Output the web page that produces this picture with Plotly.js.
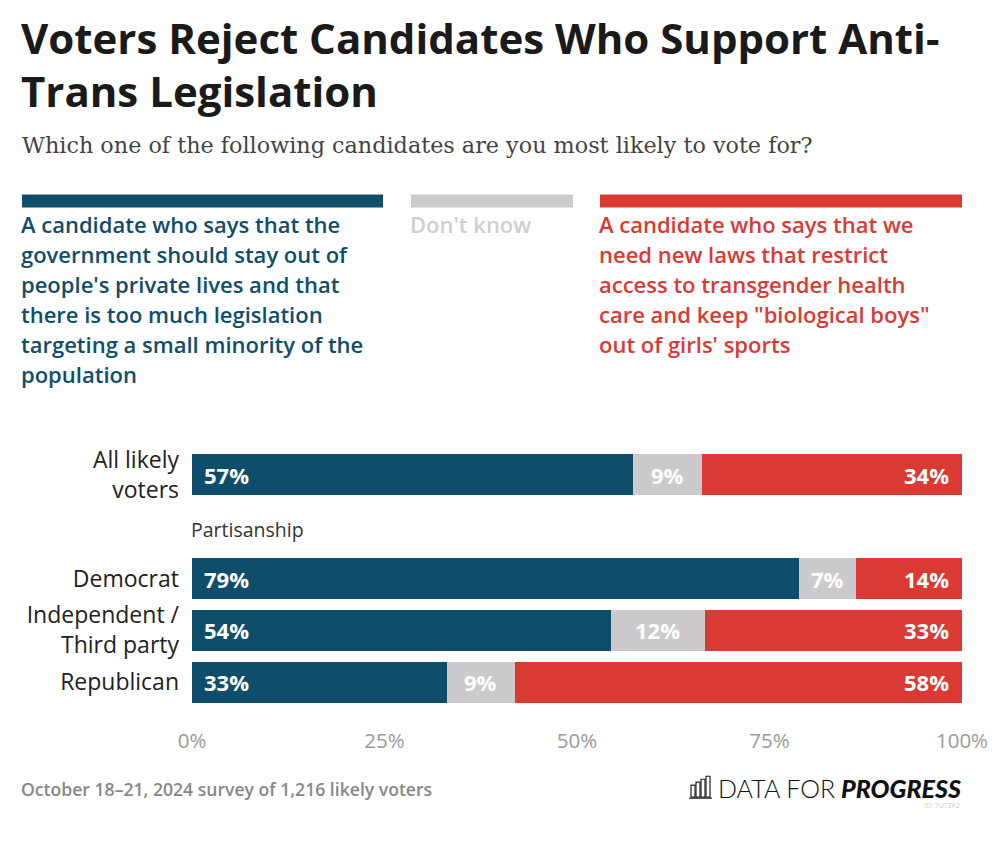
<!DOCTYPE html>
<html>
<head>
<meta charset="utf-8">
<script src="https://cdn.plot.ly/plotly-3.0.1.min.js"></script>
<style>
html,body{margin:0;padding:0;background:#fff;}
#chart{width:1000px;height:841px;}
</style>
</head>
<body>
<div id="chart"></div>
<script>
// ---- data (bar lengths; labels are the printed rounded values) ----
const groups = ["All likely<br>voters", "Democrat", "Independent /<br>Third party", "Republican"];
const stayOut = [57.3, 78.8, 54.4, 33.1];
const dontKnow = [8.9, 7.4, 12.2, 8.8];
const newLaws = [33.8, 13.8, 33.4, 58.1];
const seriesNames = [
  "A candidate who says that the<br>government should stay out of<br>people's private lives and that<br>there is too much legislation<br>targeting a small minority of the<br>population",
  "Don't know",
  "A candidate who says that we<br>need new laws that restrict<br>access to transgender health<br>care and keep \"biological boys\"<br>out of girls' sports"
];
const xTicks = [0, 25, 50, 75, 100];
const sectionLabel = "Partisanship";
const titleText = "Voters Reject Candidates Who Support Anti-<br>Trans Legislation";
const subtitleText = "Which one of the following candidates are you most likely to vote for?";
const footerText = "October 18\u201321, 2024 survey of 1,216 likely voters";

// ---- layout constants ----
const rowPos = [0, 2, 3, 4];      // vertical slot of each group (gap row for section label)
const BLUE = "#0f4e6b", GRAY = "#cdcacd", RED = "#d93a34";
const SANS = "'Open Sans', Lato, sans-serif";
const L = 192, R = 962, T = 448.5, B = 708.5;
const W = 1000, H = 841;
const px = x => (x - L) / (R - L);
const py = y => (B - y) / (B - T);

const barW = 0.79;
const traces = [
  {x: stayOut, color: BLUE, name: "stay"},
  {x: dontKnow, color: GRAY, name: "dk"},
  {x: newLaws, color: RED, name: "new"}
].map(s => ({
  type: "bar", orientation: "h", y: rowPos, x: s.x, name: s.name,
  marker: {color: s.color, line: {width: 0}}, width: barW,
  hoverinfo: "skip", showlegend: false
}));

const pct = v => Math.round(v) + "%";
const annotations = [];
const valFont = {family: SANS, size: 22, color: "#fff", weight: 700};
groups.forEach((g, i) => {
  annotations.push({x: 0, y: rowPos[i], xref: "x", yref: "y", text: pct(stayOut[i]),
    xanchor: "left", yanchor: "middle", xshift: 10, showarrow: false, font: valFont});
  annotations.push({x: stayOut[i] + dontKnow[i] / 2, y: rowPos[i], xref: "x", yref: "y", text: pct(dontKnow[i]),
    xanchor: "center", yanchor: "middle", showarrow: false, font: valFont});
  annotations.push({x: 100, y: rowPos[i], xref: "x", yref: "y", text: pct(newLaws[i]),
    xanchor: "right", yanchor: "middle", xshift: -11, showarrow: false, font: valFont});
});
// section label
annotations.push({x: 0, y: 1, xref: "x", yref: "y", text: sectionLabel, xanchor: "left", yanchor: "middle",
  showarrow: false, xshift: -3, yshift: -3, font: {family: SANS, size: 19.5, color: "#333"}});

// title (one annotation per line for exact line spacing)
titleText.split("<br>").forEach((line, j) => {
  annotations.push({x: px(19), y: py(35 + 54 * j), xref: "paper", yref: "paper", text: line,
    xanchor: "left", yanchor: "middle", showarrow: false,
    font: {family: SANS, size: 42, color: "#1a1a1a", weight: 700}});
});
// subtitle
annotations.push({x: px(20), y: py(143), xref: "paper", yref: "paper", text: subtitleText,
  xanchor: "left", yanchor: "middle", showarrow: false,
  font: {family: "'DejaVu Serif', serif", size: 22.3, color: "#444"}});

// legend blocks
const legX = [[22, 383], [411, 573], [600, 962]];
const legCol = [BLUE, GRAY, RED];
const legTextCol = [BLUE, "#cfcfcf", RED];
const shapes = [];
legX.forEach((lx, k) => {
  shapes.push({type: "rect", xref: "paper", yref: "paper", x0: px(lx[0]), x1: px(lx[1]), y0: py(193), y1: py(206),
    fillcolor: legCol[k], line: {width: 0}});
  seriesNames[k].split("<br>").forEach((line, j) => {
    annotations.push({x: px(lx[0] - 3), y: py(223 + 30 * j), xref: "paper", yref: "paper", text: line,
      xanchor: "left", yanchor: "middle", showarrow: false,
      font: {family: SANS, size: 22, color: legTextCol[k], weight: 600}});
  });
});

// footer
annotations.push({x: px(19), y: py(790), xref: "paper", yref: "paper", text: footerText,
  xanchor: "left", yanchor: "middle", showarrow: false,
  font: {family: SANS, size: 17.6, color: "#888", weight: 600}});
// logo
annotations.push({x: px(716), y: py(789), xref: "paper", yref: "paper", text: "DATA FOR",
  xanchor: "left", yanchor: "middle", showarrow: false,
  font: {family: "Lato, sans-serif", size: 25, color: "#111", weight: 300}});
annotations.push({x: px(963), y: py(789), xref: "paper", yref: "paper", text: "PROGRESS",
  xanchor: "right", yanchor: "middle", showarrow: false,
  font: {family: "Lato, sans-serif", size: 25, color: "#111", weight: 900, style: "italic"}});
annotations.push({x: px(962), y: py(806), xref: "paper", yref: "paper", text: "ID: 7UTZK2",
  xanchor: "right", yanchor: "middle", showarrow: false,
  font: {family: SANS, size: 7, color: "#ccc"}});
// logo icon
const iconBars = [[691, 786], [696, 783], [701, 780], [706, 777]];
iconBars.forEach(b => {
  shapes.push({type: "rect", xref: "paper", yref: "paper", x0: px(b[0]), x1: px(b[0] + 4), y0: py(798), y1: py(b[1]),
    line: {color: "#222", width: 1.2}, fillcolor: "rgba(0,0,0,0)"});
});
shapes.push({type: "line", xref: "paper", yref: "paper", x0: px(689), x1: px(712), y0: py(799), y1: py(799),
  line: {color: "#222", width: 1.2}});

const layout = {
  width: W, height: H,
  margin: {l: L, r: W - R, t: T, b: H - B, pad: 0},
  paper_bgcolor: "#fff", plot_bgcolor: "#fff",
  barmode: "stack", bargap: 0,
  xaxis: {range: [0, 100], tickvals: xTicks, ticktext: xTicks.map(v => v + "%"), showgrid: false, zeroline: false,
    showline: false, ticks: "", ticklabelstandoff: 18, fixedrange: true,
    tickfont: {family: SANS, size: 20.5, color: "#9a9a9a"}},
  yaxis: {range: [4.5, -0.5], tickvals: rowPos, ticktext: groups, showgrid: false, zeroline: false,
    showline: false, ticks: "", ticklabelstandoff: 12, fixedrange: true,
    tickfont: {family: SANS, size: 23, color: "#222"}},
  annotations: annotations,
  shapes: shapes,
  showlegend: false
};

Plotly.newPlot("chart", traces, layout, {displayModeBar: false, staticPlot: true});
</script>
</body>
</html>
